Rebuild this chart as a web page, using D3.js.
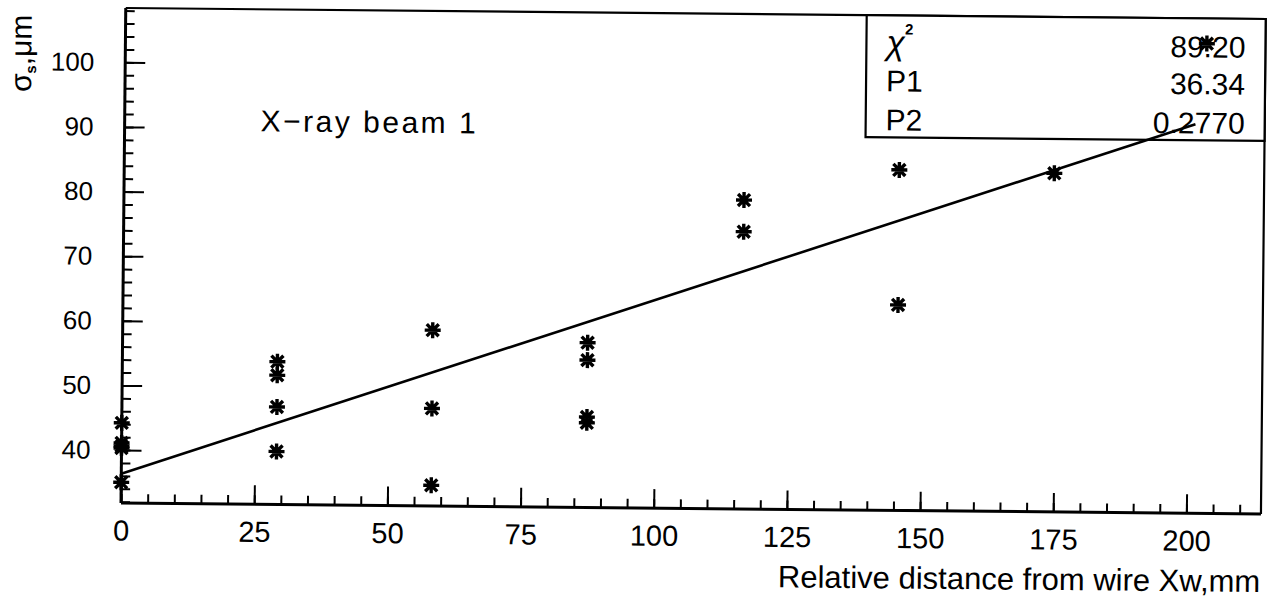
<!DOCTYPE html>
<html>
<head>
<meta charset="utf-8">
<script src="https://cdn.jsdelivr.net/npm/d3@7"></script>
<style>
  html, body { margin: 0; padding: 0; background: #fff; }
  svg { display: block; }
  text { font-family: "Liberation Sans", Arial, sans-serif; fill: #000; }
</style>
</head>
<body>
<svg id="chart" width="1268" height="606"></svg>
<script>
// Measured distances of the wire positions (mm) and the widths found at each
const distances = [0, 29.1, 58.2, 87.3, 116.4, 145.5, 174.6, 203.0];
const sigmaValues = [
  [44.2, 41.1, 40.6, 40.3, 35.0],
  [53.9, 51.8, 46.9, 40.0],
  [59.0, 46.9, 35.0],
  [57.3, 54.6, 45.8, 44.9],
  [79.6, 74.7],
  [84.5, 63.6],
  [84.2],
  [104.5]
];

// Linear fit  sigma = P1 + P2 * x
const fitNames = ["χ", "P1", "P2"];
const fitTexts = ["89.20", "36.34", "0.2770"];
const P1 = 36.34;
const P2 = 0.2770;
const fitRange = [0, 201];

const xDomain = [0, 214];
const yDomain = [31.8, 108.4];
const xMajorTicks = [0, 25, 50, 75, 100, 125, 150, 175, 200];
const xMinorTicks = d3.range(0, 214, 5);
const yMajorTicks = [40, 50, 60, 70, 80, 90, 100];
const yMinorTicks = d3.range(32, 109, 2);

const plot = { left: 121, right: 1261, top: 8, bottom: 503 };

const svg = d3.select("#chart");
// the whole sheet sits very slightly turned
const g = svg.append("g")
  .attr("transform", `rotate(0.55, ${plot.left}, ${plot.bottom})`);

const x = d3.scaleLinear().domain(xDomain).range([plot.left, plot.right]);
const y = d3.scaleLinear().domain(yDomain).range([plot.bottom, plot.top]);

// ---- frame (top and right) ----
g.append("path")
  .attr("d", `M${plot.left},${plot.top}H${plot.right}V${plot.bottom}`)
  .attr("fill", "none").attr("stroke", "#000").attr("stroke-width", 2.2);

// ---- statistics box ----
const box = { x0: 862, x1: plot.right, y0: plot.top, y1: 130 };
g.append("rect")
  .attr("x", box.x0).attr("y", box.y0)
  .attr("width", box.x1 - box.x0).attr("height", box.y1 - box.y0)
  .attr("fill", "#fff").attr("stroke", "#000").attr("stroke-width", 2.2);

const rowBase = [47, 84, 123];
fitNames.forEach((name, i) => {
  const t = g.append("text")
    .attr("x", box.x0 + 20).attr("y", rowBase[i])
    .attr("font-size", 30);
  if (i === 0) {
    t.append("tspan").attr("font-style", "italic").attr("font-size", 34).text(name);
    t.append("tspan").attr("font-size", 15).attr("font-weight", "bold").attr("dy", -20).text("2");
  } else {
    t.text(name);
  }
});
fitTexts.forEach((v, i) => {
  g.append("text")
    .attr("x", box.x1 - 20).attr("y", rowBase[i])
    .attr("text-anchor", "end").attr("font-size", 30)
    .text(v);
});

// ---- Y axis ----
const yMinor = g.append("g").attr("transform", `translate(${plot.left},0)`)
  .call(d3.axisLeft(y).tickValues(yMinorTicks).tickSize(-9).tickSizeOuter(0).tickFormat(""));
yMinor.select(".domain").remove();
const yMajor = g.append("g").attr("transform", `translate(${plot.left},0)`)
  .call(d3.axisLeft(y).tickValues(yMajorTicks).tickSize(-20).tickSizeOuter(0).tickPadding(31));
yMajor.select(".domain").attr("d", `M0,${plot.top}V${plot.bottom}`).attr("stroke-width", 3);
yMajor.selectAll("text").attr("font-size", 26).attr("font-family", "Liberation Sans, Arial, sans-serif");

// ---- X axis ----
const xMinor = g.append("g").attr("transform", `translate(0,${plot.bottom})`)
  .call(d3.axisBottom(x).tickValues(xMinorTicks).tickSize(-9).tickSizeOuter(0).tickFormat(""));
xMinor.select(".domain").remove();
const xMajor = g.append("g").attr("transform", `translate(0,${plot.bottom})`)
  .call(d3.axisBottom(x).tickValues(xMajorTicks).tickSize(-19).tickSizeOuter(0).tickPadding(17));
xMajor.select(".domain").attr("d", `M${plot.left},0H${plot.right}`).attr("stroke-width", 3);
xMajor.selectAll("text").attr("font-size", 29).attr("font-family", "Liberation Sans, Arial, sans-serif");
g.selectAll(".tick line").attr("stroke-width", 2);

// ---- fit line ----
const line = d3.line().x(d => x(d)).y(d => y(P1 + P2 * d));
g.append("path")
  .attr("d", line(fitRange))
  .attr("fill", "none").attr("stroke", "#000").attr("stroke-width", 2.6);

// ---- measured points (asterisk markers) ----
const points = distances.flatMap((d, i) => sigmaValues[i].map(s => ({ d, s })));
const star = "M-8,0H8M0,-8V8M-6,-6L6,6M-6,6L6,-6";
g.append("g").selectAll("path").data(points).join("path")
  .attr("transform", p => `translate(${x(p.d)},${y(p.s)})`)
  .attr("d", star)
  .attr("fill", "none").attr("stroke", "#000").attr("stroke-width", 3.4);

// ---- labels ----
g.append("text")
  .attr("x", 257).attr("y", 130)
  .attr("font-size", 30).attr("textLength", 215).attr("lengthAdjust", "spacing")
  .text("X\u2212ray beam 1");

g.append("text")
  .attr("x", plot.right).attr("y", 581)
  .attr("text-anchor", "end").attr("font-size", 31)
  .text("Relative distance from wire Xw,mm");

const yt = g.append("text")
  .attr("transform", "translate(27,93) rotate(-90)")
  .attr("font-size", 30);
yt.append("tspan").text("σ");
yt.append("tspan").attr("font-size", 15).attr("font-weight", "bold").attr("dy", 5).text("s");
yt.append("tspan").attr("dy", -5).text(",μm");
</script>
</body>
</html>
